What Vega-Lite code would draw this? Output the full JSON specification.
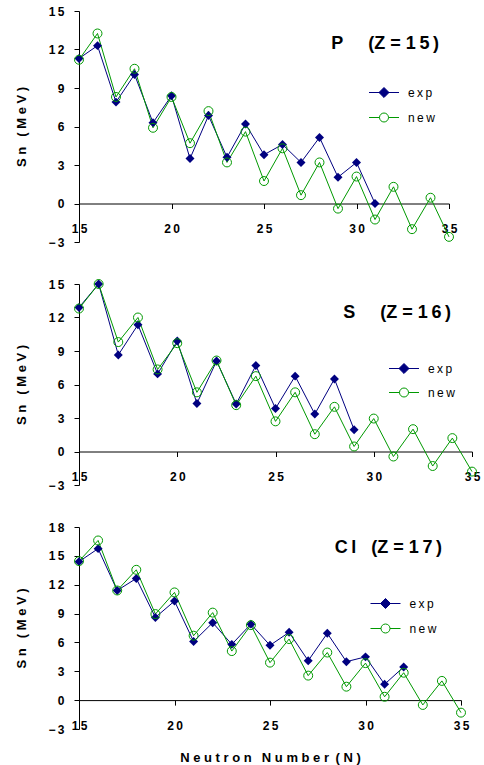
{
  "$schema": "https://vega.github.io/schema/vega-lite/v6.json",
  "padding": {"left": 15, "top": 5, "right": 0, "bottom": 0},
  "background": "white",
  "datasets": {
    "P": [
      {"N": 15, "series": "exp", "Sn": 11.3}, {"N": 16, "series": "exp", "Sn": 12.3}, {"N": 17, "series": "exp", "Sn": 7.9},
      {"N": 18, "series": "exp", "Sn": 10.05}, {"N": 19, "series": "exp", "Sn": 6.3}, {"N": 20, "series": "exp", "Sn": 8.4},
      {"N": 21, "series": "exp", "Sn": 3.5}, {"N": 22, "series": "exp", "Sn": 6.85}, {"N": 23, "series": "exp", "Sn": 3.6},
      {"N": 24, "series": "exp", "Sn": 6.2}, {"N": 25, "series": "exp", "Sn": 3.8}, {"N": 26, "series": "exp", "Sn": 4.6},
      {"N": 27, "series": "exp", "Sn": 3.2}, {"N": 28, "series": "exp", "Sn": 5.15}, {"N": 29, "series": "exp", "Sn": 2.05},
      {"N": 30, "series": "exp", "Sn": 3.2}, {"N": 31, "series": "exp", "Sn": 0.0},
      {"N": 15, "series": "new", "Sn": 11.2}, {"N": 16, "series": "new", "Sn": 13.25}, {"N": 17, "series": "new", "Sn": 8.3},
      {"N": 18, "series": "new", "Sn": 10.5}, {"N": 19, "series": "new", "Sn": 5.9}, {"N": 20, "series": "new", "Sn": 8.3},
      {"N": 21, "series": "new", "Sn": 4.7}, {"N": 22, "series": "new", "Sn": 7.2}, {"N": 23, "series": "new", "Sn": 3.2},
      {"N": 24, "series": "new", "Sn": 5.6}, {"N": 25, "series": "new", "Sn": 1.75}, {"N": 26, "series": "new", "Sn": 4.3},
      {"N": 27, "series": "new", "Sn": 0.65}, {"N": 28, "series": "new", "Sn": 3.2}, {"N": 29, "series": "new", "Sn": -0.4},
      {"N": 30, "series": "new", "Sn": 2.1}, {"N": 31, "series": "new", "Sn": -1.25}, {"N": 32, "series": "new", "Sn": 1.3},
      {"N": 33, "series": "new", "Sn": -2.0}, {"N": 34, "series": "new", "Sn": 0.45}, {"N": 35, "series": "new", "Sn": -2.6}
    ],
    "S": [
      {"N": 15, "series": "exp", "Sn": 12.9}, {"N": 16, "series": "exp", "Sn": 15.0}, {"N": 17, "series": "exp", "Sn": 8.65},
      {"N": 18, "series": "exp", "Sn": 11.35}, {"N": 19, "series": "exp", "Sn": 6.95}, {"N": 20, "series": "exp", "Sn": 9.9},
      {"N": 21, "series": "exp", "Sn": 4.3}, {"N": 22, "series": "exp", "Sn": 8.1}, {"N": 23, "series": "exp", "Sn": 4.25},
      {"N": 24, "series": "exp", "Sn": 7.7}, {"N": 25, "series": "exp", "Sn": 3.85}, {"N": 26, "series": "exp", "Sn": 6.75},
      {"N": 27, "series": "exp", "Sn": 3.35}, {"N": 28, "series": "exp", "Sn": 6.5}, {"N": 29, "series": "exp", "Sn": 1.95},
      {"N": 15, "series": "new", "Sn": 12.8}, {"N": 16, "series": "new", "Sn": 15.0}, {"N": 17, "series": "new", "Sn": 9.8},
      {"N": 18, "series": "new", "Sn": 12.0}, {"N": 19, "series": "new", "Sn": 7.35}, {"N": 20, "series": "new", "Sn": 9.7},
      {"N": 21, "series": "new", "Sn": 5.3}, {"N": 22, "series": "new", "Sn": 8.15}, {"N": 23, "series": "new", "Sn": 4.15},
      {"N": 24, "series": "new", "Sn": 6.75}, {"N": 25, "series": "new", "Sn": 2.7}, {"N": 26, "series": "new", "Sn": 5.3},
      {"N": 27, "series": "new", "Sn": 1.55}, {"N": 28, "series": "new", "Sn": 4.0}, {"N": 29, "series": "new", "Sn": 0.45},
      {"N": 30, "series": "new", "Sn": 2.95}, {"N": 31, "series": "new", "Sn": -0.45}, {"N": 32, "series": "new", "Sn": 2.0},
      {"N": 33, "series": "new", "Sn": -1.3}, {"N": 34, "series": "new", "Sn": 1.2}, {"N": 35, "series": "new", "Sn": -1.8}
    ],
    "Cl": [
      {"N": 15, "series": "exp", "Sn": 14.4}, {"N": 16, "series": "exp", "Sn": 15.75}, {"N": 17, "series": "exp", "Sn": 11.4},
      {"N": 18, "series": "exp", "Sn": 12.65}, {"N": 19, "series": "exp", "Sn": 8.6}, {"N": 20, "series": "exp", "Sn": 10.3},
      {"N": 21, "series": "exp", "Sn": 6.1}, {"N": 22, "series": "exp", "Sn": 8.05}, {"N": 23, "series": "exp", "Sn": 5.8},
      {"N": 24, "series": "exp", "Sn": 7.9}, {"N": 25, "series": "exp", "Sn": 5.7}, {"N": 26, "series": "exp", "Sn": 7.05},
      {"N": 27, "series": "exp", "Sn": 4.1}, {"N": 28, "series": "exp", "Sn": 6.95}, {"N": 29, "series": "exp", "Sn": 4.0},
      {"N": 30, "series": "exp", "Sn": 4.5}, {"N": 31, "series": "exp", "Sn": 1.65}, {"N": 32, "series": "exp", "Sn": 3.45},
      {"N": 15, "series": "new", "Sn": 14.45}, {"N": 16, "series": "new", "Sn": 16.6}, {"N": 17, "series": "new", "Sn": 11.4},
      {"N": 18, "series": "new", "Sn": 13.55}, {"N": 19, "series": "new", "Sn": 8.95}, {"N": 20, "series": "new", "Sn": 11.2},
      {"N": 21, "series": "new", "Sn": 6.7}, {"N": 22, "series": "new", "Sn": 9.1}, {"N": 23, "series": "new", "Sn": 5.1},
      {"N": 24, "series": "new", "Sn": 7.8}, {"N": 25, "series": "new", "Sn": 3.9}, {"N": 26, "series": "new", "Sn": 6.35},
      {"N": 27, "series": "new", "Sn": 2.55}, {"N": 28, "series": "new", "Sn": 4.95}, {"N": 29, "series": "new", "Sn": 1.4},
      {"N": 30, "series": "new", "Sn": 3.85}, {"N": 31, "series": "new", "Sn": 0.35}, {"N": 32, "series": "new", "Sn": 2.85},
      {"N": 33, "series": "new", "Sn": -0.5}, {"N": 34, "series": "new", "Sn": 2.0}, {"N": 35, "series": "new", "Sn": -1.3}
    ]
  },
  "bounds": "flush",
  "spacing": 42,
  "resolve": {
    "scale": {"color": "independent", "shape": "independent", "fill": "independent", "stroke": "independent"},
    "legend": {"color": "independent", "shape": "independent", "fill": "independent", "stroke": "independent"}
  },
  "vconcat": [
    {
      "data": {"name": "P"},
      "width": 370, "height": 231,
      "title": {"text": "P\u00a0\u00a0\u00a0\u00a0\u00a0(Z\u00a0=\u00a01\u20095\u2009)", "anchor": "end", "frame": "group", "orient": "top", "offset": 0, "dy": 62, "dx": -10, "baseline": "alphabetic", "font": "Liberation Sans", "fontSize": 18, "fontWeight": "bold", "color": "black"},
      "encoding": {
        "x": {"field": "N", "type": "quantitative", "scale": {"domain": [15, 35], "nice": false, "zero": false},
              "axis": {"values": [15, 20, 25, 30, 35], "offset": -38.5, "title": null, "labelPadding": 15, "labelFlush": false, "labelOverlap": false, "labelExpr": "join(split(datum.label, ''), '\u2009')"}},
        "y": {"field": "Sn", "type": "quantitative", "scale": {"domain": [-3, 15], "nice": false, "zero": false},
              "axis": {"values": [-3, 0, 3, 6, 9, 12, 15], "title": "S n\u2002 ( M e V )", "labelPadding": 10, "titlePadding": 19, "labelOverlap": false, "labelExpr": "join(split(datum.label, ''), '\u2009')"}}
      },
      "layer": [
        {"mark": {"type": "point", "filled": true, "size": 225, "opacity": 0},
         "encoding": {
           "shape": {"field": "series", "type": "nominal", "scale": {"domain": ["exp", "new"], "range": ["M-2,0L2,0M0,-0.667L0.667,0L0,0.667L-0.667,0Z", "M-2,0L-0.6,0M0.6,0L2,0M0.6,0A0.6,0.6,0,1,1,-0.6,0A0.6,0.6,0,1,1,0.6,0Z"]}, "legend": {"orient": "none", "legendX": 297, "legendY": 73.5, "title": null, "symbolOpacity": 1, "symbolSize": 225, "labelOffset": 16, "rowPadding": 9, "labelExpr": "join(split(datum.label, ''), '\u2009')"}},
           "fill": {"field": "series", "type": "nominal", "scale": {"domain": ["exp", "new"], "range": ["#000080", "#ffffff"]}, "legend": {"orient": "none", "legendX": 297, "legendY": 73.5, "title": null, "symbolOpacity": 1, "symbolSize": 225, "labelOffset": 16, "rowPadding": 9, "labelExpr": "join(split(datum.label, ''), '\u2009')"}},
           "stroke": {"field": "series", "type": "nominal", "scale": {"domain": ["exp", "new"], "range": ["#000080", "#009900"]}, "legend": {"orient": "none", "legendX": 297, "legendY": 73.5, "title": null, "symbolOpacity": 1, "symbolSize": 225, "labelOffset": 16, "rowPadding": 9, "labelExpr": "join(split(datum.label, ''), '\u2009')"}}
         }},
        {"mark": {"type": "line", "strokeWidth": 1}, "encoding": {"color": {"field": "series", "type": "nominal", "scale": {"domain": ["exp", "new"], "range": ["#000080", "#009900"]}, "legend": null}}},
        {"transform": [{"filter": "datum.series == 'exp'"}], "mark": {"type": "point", "shape": "diamond", "filled": true, "color": "#000080", "size": 80, "opacity": 1}},
        {"transform": [{"filter": "datum.series == 'new'"}], "mark": {"type": "point", "shape": "circle", "filled": false, "color": "#009900", "size": 80, "strokeWidth": 1, "opacity": 1}}
      ]
    },
    {
      "data": {"name": "S"},
      "width": 393, "height": 201,
      "title": {"text": "S\u00a0\u00a0\u00a0\u00a0\u00a0(Z\u00a0=\u00a01\u20096\u2009)", "anchor": "end", "frame": "group", "orient": "top", "offset": 0, "dy": 58, "dx": -21, "baseline": "alphabetic", "font": "Liberation Sans", "fontSize": 18, "fontWeight": "bold", "color": "black"},
      "encoding": {
        "x": {"field": "N", "type": "quantitative", "scale": {"domain": [15, 35], "nice": false, "zero": false},
              "axis": {"values": [15, 20, 25, 30, 35], "offset": -33.5, "title": null, "labelPadding": 15, "labelFlush": false, "labelOverlap": false, "labelExpr": "join(split(datum.label, ''), '\u2009')"}},
        "y": {"field": "Sn", "type": "quantitative", "scale": {"domain": [-3, 15], "nice": false, "zero": false},
              "axis": {"values": [-3, 0, 3, 6, 9, 12, 15], "title": "S n\u2002 ( M e V )", "labelPadding": 10, "titlePadding": 19, "labelOverlap": false, "labelExpr": "join(split(datum.label, ''), '\u2009')"}}
      },
      "layer": [
        {"mark": {"type": "point", "filled": true, "size": 225, "opacity": 0},
         "encoding": {
           "shape": {"field": "series", "type": "nominal", "scale": {"domain": ["exp", "new"], "range": ["M-2,0L2,0M0,-0.667L0.667,0L0,0.667L-0.667,0Z", "M-2,0L-0.6,0M0.6,0L2,0M0.6,0A0.6,0.6,0,1,1,-0.6,0A0.6,0.6,0,1,1,0.6,0Z"]}, "legend": {"orient": "none", "legendX": 317, "legendY": 76.5, "title": null, "symbolOpacity": 1, "symbolSize": 225, "labelOffset": 16, "rowPadding": 8, "labelExpr": "join(split(datum.label, ''), '\u2009')"}},
           "fill": {"field": "series", "type": "nominal", "scale": {"domain": ["exp", "new"], "range": ["#000080", "#ffffff"]}, "legend": {"orient": "none", "legendX": 317, "legendY": 76.5, "title": null, "symbolOpacity": 1, "symbolSize": 225, "labelOffset": 16, "rowPadding": 8, "labelExpr": "join(split(datum.label, ''), '\u2009')"}},
           "stroke": {"field": "series", "type": "nominal", "scale": {"domain": ["exp", "new"], "range": ["#000080", "#009900"]}, "legend": {"orient": "none", "legendX": 317, "legendY": 76.5, "title": null, "symbolOpacity": 1, "symbolSize": 225, "labelOffset": 16, "rowPadding": 8, "labelExpr": "join(split(datum.label, ''), '\u2009')"}}
         }},
        {"mark": {"type": "line", "strokeWidth": 1}, "encoding": {"color": {"field": "series", "type": "nominal", "scale": {"domain": ["exp", "new"], "range": ["#000080", "#009900"]}, "legend": null}}},
        {"transform": [{"filter": "datum.series == 'exp'"}], "mark": {"type": "point", "shape": "diamond", "filled": true, "color": "#000080", "size": 80, "opacity": 1}},
        {"transform": [{"filter": "datum.series == 'new'"}], "mark": {"type": "point", "shape": "circle", "filled": false, "color": "#009900", "size": 80, "strokeWidth": 1, "opacity": 1}}
      ]
    },
    {
      "data": {"name": "Cl"},
      "width": 382, "height": 202,
      "title": {"text": "C\u2009l\u00a0\u00a0\u00a0(Z\u00a0=\u00a01\u20097\u2009)", "anchor": "end", "frame": "group", "orient": "top", "offset": 0, "dy": 50, "dx": -19, "baseline": "alphabetic", "font": "Liberation Sans", "fontSize": 18, "fontWeight": "bold", "color": "black"},
      "encoding": {
        "x": {"field": "N", "type": "quantitative", "scale": {"domain": [15, 35], "nice": false, "zero": false},
              "axis": {"values": [15, 20, 25, 30, 35], "offset": -28.9, "title": "N e u t r o n\u2002 N u m b e r\u2002( N )", "titlePadding": 20, "labelPadding": 15, "labelFlush": false, "labelOverlap": false, "labelExpr": "join(split(datum.label, ''), '\u2009')"}},
        "y": {"field": "Sn", "type": "quantitative", "scale": {"domain": [-3, 18], "nice": false, "zero": false},
              "axis": {"values": [-3, 0, 3, 6, 9, 12, 15, 18], "title": "S n\u2002 ( M e V )", "labelPadding": 10, "titlePadding": 19, "labelOverlap": false, "labelExpr": "join(split(datum.label, ''), '\u2009')"}}
      },
      "layer": [
        {"mark": {"type": "point", "filled": true, "size": 225, "opacity": 0},
         "encoding": {
           "shape": {"field": "series", "type": "nominal", "scale": {"domain": ["exp", "new"], "range": ["M-2,0L2,0M0,-0.667L0.667,0L0,0.667L-0.667,0Z", "M-2,0L-0.6,0M0.6,0L2,0M0.6,0A0.6,0.6,0,1,1,-0.6,0A0.6,0.6,0,1,1,0.6,0Z"]}, "legend": {"orient": "none", "legendX": 298.5, "legendY": 68.5, "title": null, "symbolOpacity": 1, "symbolSize": 225, "labelOffset": 16, "rowPadding": 9, "labelExpr": "join(split(datum.label, ''), '\u2009')"}},
           "fill": {"field": "series", "type": "nominal", "scale": {"domain": ["exp", "new"], "range": ["#000080", "#ffffff"]}, "legend": {"orient": "none", "legendX": 298.5, "legendY": 68.5, "title": null, "symbolOpacity": 1, "symbolSize": 225, "labelOffset": 16, "rowPadding": 9, "labelExpr": "join(split(datum.label, ''), '\u2009')"}},
           "stroke": {"field": "series", "type": "nominal", "scale": {"domain": ["exp", "new"], "range": ["#000080", "#009900"]}, "legend": {"orient": "none", "legendX": 298.5, "legendY": 68.5, "title": null, "symbolOpacity": 1, "symbolSize": 225, "labelOffset": 16, "rowPadding": 9, "labelExpr": "join(split(datum.label, ''), '\u2009')"}}
         }},
        {"mark": {"type": "line", "strokeWidth": 1}, "encoding": {"color": {"field": "series", "type": "nominal", "scale": {"domain": ["exp", "new"], "range": ["#000080", "#009900"]}, "legend": null}}},
        {"transform": [{"filter": "datum.series == 'exp'"}], "mark": {"type": "point", "shape": "diamond", "filled": true, "color": "#000080", "size": 80, "opacity": 1}},
        {"transform": [{"filter": "datum.series == 'new'"}], "mark": {"type": "point", "shape": "circle", "filled": false, "color": "#009900", "size": 80, "strokeWidth": 1, "opacity": 1}}
      ]
    }
  ],
  "config": {
    "view": {"stroke": null},
    "font": "Liberation Sans",
    "axis": {"grid": false, "domainColor": "black", "tickColor": "black", "labelColor": "black", "titleColor": "black", "domainWidth": 1, "tickWidth": 1, "tickSize": 5, "labelFont": "Liberation Sans", "labelFontSize": 12, "labelFontWeight": "bold", "titleFont": "Liberation Sans", "titleFontSize": 13, "titleFontWeight": "bold"},
    "legend": {"symbolOpacity": 1, "symbolStrokeWidth": 1, "labelFont": "Liberation Sans", "labelFontSize": 12, "labelColor": "black", "padding": 0}
  }
}
